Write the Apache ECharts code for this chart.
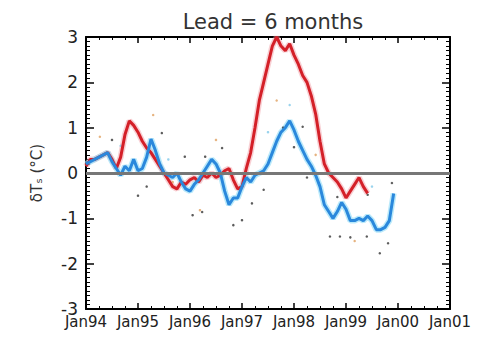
<!DOCTYPE html>
<html>
<head>
<meta charset="utf-8">
<script src="https://cdn.jsdelivr.net/npm/echarts@6/dist/echarts.min.js"></script>
<style>html,body{margin:0;padding:0;background:#fff}#c{width:485px;height:341px}</style>
</head>
<body>
<div id="c"></div>
<script>
// Month index 0 = Jan94
const xTickLabels = ['Jan94','Jan95','Jan96','Jan97','Jan98','Jan99','Jan00','Jan01'];
const yTicks = [-3,-2,-1,0,1,2,3];
const redSeries = [0.15,0.3,0.3,0.35,0.4,0.45,0.3,0.1,0.35,0.85,1.15,1.05,0.9,0.7,0.55,0.45,0.3,0.15,0.0,-0.15,-0.3,-0.35,-0.2,-0.25,-0.15,-0.1,-0.2,-0.05,-0.1,0.0,-0.1,-0.05,0.05,0.1,-0.15,-0.35,-0.3,0.1,0.45,1.0,1.6,2.0,2.4,2.8,3.0,2.8,2.7,2.85,2.6,2.4,2.15,2.0,1.7,1.3,0.7,0.2,0.0,-0.1,-0.2,-0.35,-0.55,-0.4,-0.25,-0.1,-0.3,-0.45];
const blueSeries = [0.2,0.25,0.3,0.35,0.4,0.45,0.25,0.1,-0.05,0.15,0.05,0.3,0.05,0.1,0.35,0.75,0.5,0.2,0.0,-0.05,-0.1,0.0,-0.2,-0.35,-0.4,-0.25,-0.15,0.0,0.15,0.3,0.2,0.0,-0.4,-0.7,-0.55,-0.55,-0.3,-0.1,-0.2,-0.05,0.0,0.05,0.2,0.45,0.7,0.9,1.0,1.15,0.95,0.7,0.5,0.3,0.15,-0.05,-0.3,-0.7,-0.85,-1.0,-0.85,-0.65,-0.8,-1.05,-1.05,-1.0,-1.05,-0.95,-1.05,-1.25,-1.25,-1.2,-1.05,-0.45];
const darkDots = [[6,0.73],[12,-0.5],[14,-0.3],[17.5,0.88],[22.8,0.36],[24.6,-0.93],[26.8,-0.86],[27.5,0.36],[31.4,0.55],[34,-1.15],[36,-1.04],[38.3,-0.67],[41,-0.37],[45.5,1.0],[48,0.57],[50,1.02],[51,-0.1],[58,-0.53],[65,-0.48],[70.6,-0.22],[56.3,-1.4],[58.6,-1.4],[61,-1.42],[64.8,-1.4],[67.8,-1.77],[69.7,-1.55]];
const orangeDots = [[15.5,1.28],[30,0.73],[26.3,-0.82],[3.2,0.8],[44,1.6],[62,-1.5],[20,-0.2],[53,0.4]];
const cyanDots = [[8,0.6],[47,1.5],[66,-0.3],[19,0.3],[42,0.9]];

const toXY = arr => arr.map((v,i)=>[i,v]);
function xAx(pos, showLabel){
  return {
    type:'value', min:0, max:84, interval:12, position:pos,
    axisLine:{show:true, onZero:false, lineStyle:{color:'#000', width:2}},
    axisTick:{show:true, inside:true, length:6, lineStyle:{color:'#000', width:1.5}},
    minorTick:{show:true, splitNumber:4, length:3, lineStyle:{color:'#000', width:1}},
    splitLine:{show:false},
    axisLabel:{show:showLabel, margin:5, fontFamily:'DejaVu Sans', fontSize:15, color:'#222',
      hideOverlap:false, showMinLabel:true, showMaxLabel:true,
      formatter:v=>xTickLabels[Math.round(v/12)]}
  };
}
function yAx(pos, showLabel){
  const a = {
    type:'value', min:-3, max:3, interval:1, position:pos,
    axisLine:{show:true, onZero:false, lineStyle:{color:'#000', width:2}},
    axisTick:{show:true, inside:true, length:8, lineStyle:{color:'#000', width:1.5}},
    minorTick:{show:true, splitNumber:10, length:4, lineStyle:{color:'#000', width:1}},
    splitLine:{show:false},
    axisLabel:{show:showLabel, margin:8, fontFamily:'DejaVu Sans', fontSize:17, color:'#222',
      formatter:v=>String(yTicks[yTicks.indexOf(v)])}
  };
  if (showLabel) {
    a.name = 'δTₛ (°C)'; a.nameLocation = 'middle'; a.nameGap = 42; a.nameRotate = 90;
    a.nameTextStyle = {fontFamily:'DejaVu Sans', fontSize:15, color:'#333'};
  }
  return a;
}
const series = [
  {type:'scatter', data:darkDots, symbolSize:2.5, itemStyle:{color:'#333'}, silent:true},
  {type:'scatter', data:orangeDots, symbolSize:2.5, itemStyle:{color:'#e0a060'}, silent:true},
  {type:'scatter', data:cyanDots, symbolSize:2.5, itemStyle:{color:'#80c8e8'}, silent:true},
  // soft halos under the lines
  {type:'line', data:toXY(redSeries), showSymbol:false, z:2, silent:true,
    lineStyle:{color:'rgba(240,150,160,0.45)', width:6},
    markLine:{silent:true, symbol:'none', label:{show:false}, lineStyle:{color:'#777', width:3, type:'solid'}, data:[{yAxis:0}]}},
  {type:'line', data:toXY(blueSeries), showSymbol:false, z:2, silent:true,
    lineStyle:{color:'rgba(130,215,245,0.55)', width:6}},
  {type:'line', data:toXY(redSeries), showSymbol:false, z:3,
    lineStyle:{color:'#d42028', width:3}},
  {type:'line', data:toXY(blueSeries), showSymbol:false, z:4,
    lineStyle:{color:'#2a88dc', width:3}}
];
echarts.init(document.getElementById('c'), null, {renderer:'svg'}).setOption({
  animation:false, backgroundColor:'#fff',
  grid:{left:86, right:35, top:37, bottom:32},
  title:{text:'Lead = 6 months', left:268, textAlign:'center', top:6,
    textStyle:{fontFamily:'DejaVu Sans', fontSize:21, fontWeight:'normal', color:'#333'}},
  xAxis:[xAx('bottom',true), xAx('top',false)],
  yAxis:[yAx('left',true), yAx('right',false)],
  series
});
</script>
</body>
</html>
